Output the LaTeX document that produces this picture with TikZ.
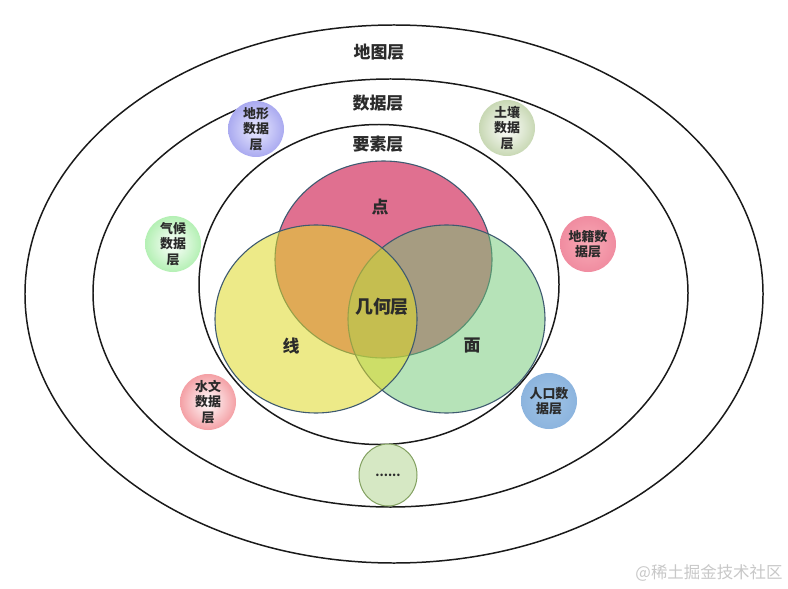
\documentclass[tikz,border=0pt]{standalone}
\usepackage{fontspec}
\setmainfont{Noto Sans CJK SC}
\usetikzlibrary{shadings, shapes.geometric}

\definecolor{ringline}{HTML}{1A1A1A}
\definecolor{vennline}{HTML}{3E5A70}
\definecolor{dianfill}{HTML}{E07090}
\definecolor{xianfill}{RGB}{224,218,40}
\definecolor{mianfill}{RGB}{110,200,115}
\definecolor{txt}{HTML}{2B2B2B}

\tikzset{
  ring/.style={draw=ringline, line width=1.5pt},
  venn/.style={draw=vennline, line width=1.1pt},
  layer/.style={circle, minimum size=56bp, inner sep=0pt, align=center,
    font=\bfseries\fontsize{13}{15.5}\selectfont, text=txt},
  title/.style={font=\bfseries\fontsize{17}{19}\selectfont, text=txt}
}

\begin{document}
\begin{tikzpicture}[x=1bp, y=-1bp]
        \useasboundingbox[fill=white] (0,0) rectangle (788,589);
        % the three rings
        \draw[ring] (394,294) ellipse [x radius=369bp, y radius=269bp];
        \draw[ring] (390.5,293) ellipse [x radius=297.5bp, y radius=214bp];
        \draw[ring] (379,284.5) ellipse [x radius=180bp, y radius=160bp];
        \node[title] (ditu) at (379,52) {地图层};
        \node[title] (shuju) at (378,103) {数据层};
        \node[title] (yaosu) at (378,144) {要素层};
        % point, area, line
        \filldraw[venn, fill=dianfill] (383.5,259.5) ellipse [x radius=108.5bp, y radius=98.5bp];
        \filldraw[venn, fill=mianfill, fill opacity=0.5] (446.5,319) ellipse [x radius=98.5bp, y radius=94bp];
        \filldraw[venn, fill=xianfill, fill opacity=0.55] (316,319) ellipse [x radius=101bp, y radius=94bp];
        \node[title] (dian) at (380,207) {点};
        \node[title] (xian) at (291,346) {线};
        \node[title] (mian) at (472,346) {面};
        \node[title, font=\bfseries\fontsize{18}{20}\selectfont] (jihe) at (382,307) {几何层};
        % data layers
        \node[layer, inner color=blue!8, outer color={rgb,255:red,170;green,170;blue,240}] (dixing) at (256,129) {地形\\数据\\层};
        \node[layer, inner color=white, outer color={rgb,255:red,200;green,216;blue,180}] (turang) at (507,128) {土壤\\数据\\层};
        \node[layer, inner color=white, outer color={rgb,255:red,180;green,240;blue,180}] (qihou) at (173,244) {气候\\数据\\层};
        \node[layer, inner color={rgb,255:red,248;green,170;blue,182}, outer color={rgb,255:red,240;green,140;blue,160}] (diji) at (588,244) {地籍数\\据层};
        \node[layer, inner color=white, outer color={rgb,255:red,244;green,160;blue,165}] (shuiwen) at (208,402) {水文\\数据\\层};
        \node[layer, inner color={rgb,255:red,160;green,196;blue,230}, outer color={rgb,255:red,140;green,180;blue,222}] (renkou) at (549,401) {人口数\\据层};
        \node[ellipse, draw={rgb,255:red,130;green,160;blue,96}, line width=1pt,
          fill={rgb,255:red,214;green,232;blue,196}, minimum width=58bp, minimum height=62bp,
          font=\bfseries\fontsize{12}{14}\selectfont, text=txt] (more) at (388,475) {......};
        % watermark
        \node[text={rgb,255:red,200;green,200;blue,200}, font=\fontsize{16.5}{18}\selectfont] (mark) at (709,573) {@稀土掘金技术社区};
    \end{tikzpicture}
\end{document}
